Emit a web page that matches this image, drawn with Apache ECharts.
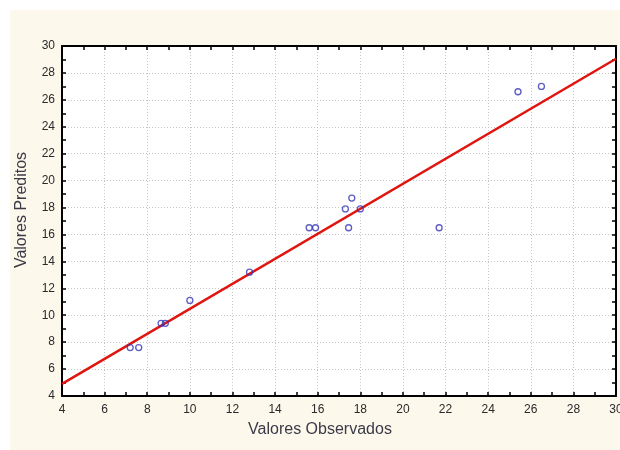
<!DOCTYPE html>
<html>
<head>
<meta charset="utf-8">
<script src="https://cdn.jsdelivr.net/npm/echarts@6/dist/echarts.min.js"></script>
<style>
html,body{margin:0;padding:0;background:#fff;}
#c{width:620px;height:450px;}
</style>
</head>
<body>
<div id="c"></div>
<script>
// Observed (x) and predicted (y) values
const observed  = [7.2, 7.6, 8.65, 8.85, 10.0, 12.8, 15.6, 15.9, 17.3, 17.6, 17.45, 18.0, 21.7, 25.4, 26.5];
const predicted = [7.6, 7.6, 9.4, 9.4, 11.1, 13.2, 16.5, 16.5, 17.9, 18.7, 16.5, 17.9, 16.5, 26.6, 27.0];
// Fitted line end points
const fitX = [4, 30];
const fitY = [4.9, 29.05];
// Axis ranges
const xRange = [4, 30];
const yRange = [4, 30];
const tickStep = 2;

const chart = echarts.init(document.getElementById('c'), null, {renderer: 'canvas'});
const labelStyle = {color: '#2a2a2a', fontSize: 12, fontFamily: 'Liberation Sans, Arial, sans-serif'};
const nameFont = {color: '#3a3a48', fontSize: 16, fontFamily: 'Liberation Sans, Arial, sans-serif'};
const lineStyle = {show: true, onZero: false, lineStyle: {color: '#000', width: 2}};
const tick = {show: true, inside: true, length: 4, lineStyle: {color: '#000', width: 1.5}};
const minor = {show: true, splitNumber: 2, length: 4, lineStyle: {color: '#000', width: 1.5}};
const split = {show: true, lineStyle: {color: '#c4c4c4', type: [1, 2], width: 1}};

const scatterData = observed.map((x, i) => [x, predicted[i]]);
const fitData = fitX.map((x, i) => [x, fitY[i]]);

chart.setOption({
  animation: false,
  backgroundColor: '#ffffff',
  graphic: [{type: 'rect', z: -10, shape: {x: 10, y: 10, width: 610, height: 440}, style: {fill: '#fcf8ec'}}],
  grid: {left: 62, top: 46, right: 4, bottom: 54, show: true, backgroundColor: '#ffffff', borderWidth: 0,
         containLabel: false, outerBoundsMode: 'none'},
  xAxis: [
    {type: 'value', min: xRange[0], max: xRange[1], interval: tickStep, position: 'bottom',
     name: 'Valores Observados', nameLocation: 'middle', nameGap: 26,
     nameTextStyle: Object.assign({padding: [0, 38, 0, 0]}, nameFont),
     axisLine: lineStyle, axisTick: tick, minorTick: minor, splitLine: split,
     axisLabel: Object.assign({margin: 8}, labelStyle)},
    {type: 'value', min: xRange[0], max: xRange[1], interval: tickStep, position: 'top',
     axisLine: lineStyle, axisTick: tick, minorTick: minor, splitLine: {show: false}, axisLabel: {show: false}}
  ],
  yAxis: [
    {type: 'value', min: yRange[0], max: yRange[1], interval: tickStep, position: 'left',
     name: 'Valores Preditos', nameLocation: 'middle', nameGap: 32,
     nameTextStyle: Object.assign({padding: [0, 0, 0, 22]}, nameFont),
     axisLine: lineStyle, axisTick: tick, minorTick: minor, splitLine: split,
     axisLabel: Object.assign({margin: 7}, labelStyle)},
    {type: 'value', min: yRange[0], max: yRange[1], interval: tickStep, position: 'right',
     axisLine: lineStyle, axisTick: tick, minorTick: minor, splitLine: {show: false}, axisLabel: {show: false}}
  ],
  series: [
    {type: 'line', data: fitData, symbol: 'none', z: 3,
     lineStyle: {color: '#e0150f', width: 2.5}},
    {type: 'scatter', data: scatterData, symbol: 'circle', symbolSize: 6, z: 5,
     itemStyle: {color: 'rgba(255,255,255,0)', borderColor: '#3535b8', borderWidth: 1.3}}
  ]
});
</script>
</body>
</html>
